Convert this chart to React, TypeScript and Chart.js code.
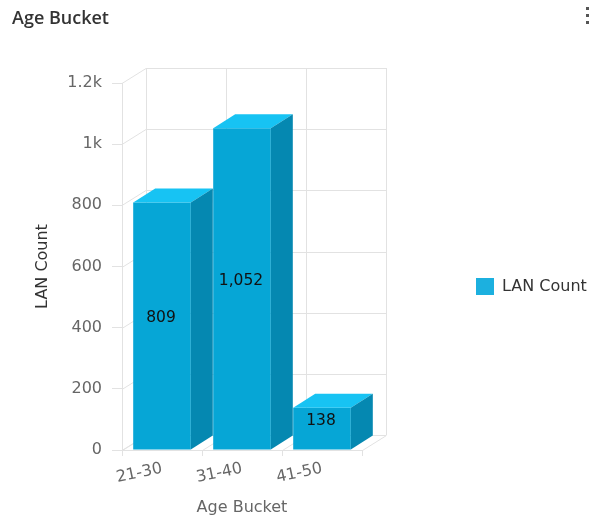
import React, { useEffect, useRef } from "react";
import { Chart, registerables } from "chart.js";
Chart.register(...registerables);

const categories = ["21-30", "31-40", "41-50"];
const lanCount = [809, 1052, 138];
const yTicks = [0, 200, 400, 600, 800, 1000, 1200];
const seriesName = "LAN Count";
const chartTitle = "Age Bucket";
const xTitle = "Age Bucket";
const yTitle = "LAN Count";

const FRONT = "#06a6d6";
const TOP = "#17c3f3";
const SIDE = "#0588b1";
const LEGEND = "#1cb0df";
const GRID = "#e2e2e2";
const WALL_DX = 24;
const WALL_DY = -15;
const BAR_DX = 22;
const BAR_DY = -14;
const FONT = "'DejaVu Sans', Verdana, sans-serif";

const threeD = {
  id: "threeD",
  beforeDatasetsDraw(chart: any) {
    const { ctx, chartArea, scales } = chart;
    const { left, right, top, bottom } = chartArea;
    const x = scales.x;
    const y = scales.y;
    ctx.save();
    ctx.strokeStyle = GRID;
    ctx.lineWidth = 1;
    yTicks.forEach((v) => {
      const yy = Math.round(y.getPixelForValue(v)) + 0.5;
      ctx.beginPath();
      ctx.moveTo(left, yy);
      ctx.lineTo(left + WALL_DX, yy + WALL_DY);
      ctx.lineTo(right + WALL_DX, yy + WALL_DY);
      ctx.stroke();
    });
    for (let i = 0; i <= categories.length; i++) {
      const bx = Math.round(x.getPixelForValue(i - 0.5)) + 0.5;
      ctx.beginPath();
      ctx.moveTo(bx + WALL_DX, top + WALL_DY);
      ctx.lineTo(bx + WALL_DX, bottom + WALL_DY);
      ctx.stroke();
      ctx.beginPath();
      ctx.moveTo(bx, bottom + 0.5);
      ctx.lineTo(bx + WALL_DX, bottom + WALL_DY + 0.5);
      ctx.stroke();
    }
    ctx.beginPath();
    ctx.moveTo(left + 0.5, top);
    ctx.lineTo(left + 0.5, bottom);
    ctx.stroke();
    ctx.beginPath();
    ctx.moveTo(left, bottom + 0.5);
    ctx.lineTo(right, bottom + 0.5);
    ctx.stroke();
    ctx.restore();
  },
  afterDatasetsDraw(chart: any) {
    const { ctx } = chart;
    const meta = chart.getDatasetMeta(0);
    const data = chart.data.datasets[0].data;
    ctx.save();
    meta.data.forEach((bar: any, i: number) => {
      const p = bar.getProps(["x", "y", "base", "width"], true);
      const l = p.x - p.width / 2;
      const r = p.x + p.width / 2;
      ctx.fillStyle = TOP;
      ctx.beginPath();
      ctx.moveTo(l, p.y);
      ctx.lineTo(r, p.y);
      ctx.lineTo(r + BAR_DX, p.y + BAR_DY);
      ctx.lineTo(l + BAR_DX, p.y + BAR_DY);
      ctx.closePath();
      ctx.fill();
      ctx.fillStyle = SIDE;
      ctx.beginPath();
      ctx.moveTo(r, p.y);
      ctx.lineTo(r + BAR_DX, p.y + BAR_DY);
      ctx.lineTo(r + BAR_DX, p.base + BAR_DY);
      ctx.lineTo(r, p.base);
      ctx.closePath();
      ctx.fill();
      ctx.fillStyle = "#111";
      ctx.font = `15.5px ${FONT}`;
      ctx.textAlign = "center";
      ctx.textBaseline = "middle";
      const v = data[i] as number;
      ctx.fillText(v.toLocaleString("en-US"), p.x - 1, (p.y + p.base) / 2 - 8);
    });
    ctx.restore();
  },
  afterDraw(chart: any) {
    const { ctx } = chart;
    ctx.save();
    ctx.fillStyle = "#333";
    ctx.font = `600 18px 'Open Sans', sans-serif`;
    ctx.textAlign = "left";
    ctx.textBaseline = "middle";
    ctx.fillText(chartTitle, 12, 19);
    ctx.fillStyle = "#555";
    [7, 14, 21].forEach((yy) => ctx.fillRect(586, yy, 3, 3));
    const ds = chart.data.datasets[0];
    ctx.fillStyle = LEGEND;
    ctx.fillRect(476, 278, 18, 17);
    ctx.fillStyle = "#333";
    ctx.font = `16px ${FONT}`;
    ctx.fillText(ds.label, 502, 287);
    ctx.restore();
  },
};

export default function App() {
  const ref = useRef<HTMLCanvasElement>(null);
  useEffect(() => {
    if (!ref.current) return;
    const chart = new Chart(ref.current, {
      type: "bar",
      data: {
        labels: categories,
        datasets: [
          {
            label: seriesName,
            data: lanCount,
            backgroundColor: FRONT,
            borderWidth: 0,
            barPercentage: 0.72,
            categoryPercentage: 1,
          },
        ],
      },
      options: {
        animation: false,
        responsive: false,
        layout: { padding: { left: 0, right: 227, top: 83, bottom: 0 } },
        plugins: {
          legend: { display: false },
          title: { display: false },
          tooltip: { enabled: false },
        },
        scales: {
          x: {
            afterFit: (s: any) => {
              s.height = 71;
            },
            grid: { display: true, drawOnChartArea: false, drawTicks: true, tickLength: 6, color: GRID },
            border: { display: false },
            ticks: {
              minRotation: 12,
              maxRotation: 12,
              autoSkip: false,
              padding: 3,
              color: "#666",
              font: { family: FONT, size: 16 },
            },
            title: {
              display: true,
              text: xTitle,
              color: "#666",
              font: { family: FONT, size: 16 },
              padding: { top: 0, bottom: 4 },
            },
          },
          y: {
            min: 0,
            max: 1200,
            afterBuildTicks: (s: any) => {
              s.ticks = yTicks.map((v) => ({ value: v }));
            },
            afterFit: (s: any) => {
              s.width = 122;
            },
            grid: { drawOnChartArea: false, drawTicks: true, tickLength: 10, color: GRID },
            border: { display: false },
            ticks: {
              padding: 10,
              color: "#666",
              font: { family: FONT, size: 16 },
              callback: (v: any) => (v >= 1000 ? v / 1000 + "k" : String(v)),
            },
            title: {
              display: true,
              text: yTitle,
              color: "#333",
              font: { family: FONT, size: 16 },
              padding: { top: 33, bottom: 0 },
            },
          },
        },
      },
      plugins: [threeD],
    });
    return () => chart.destroy();
  }, []);
  return (
    <div style={{ position: "absolute", left: 0, top: 0, width: 589, height: 521 }}>
      <canvas ref={ref} width={589} height={521} />
    </div>
  );
}
